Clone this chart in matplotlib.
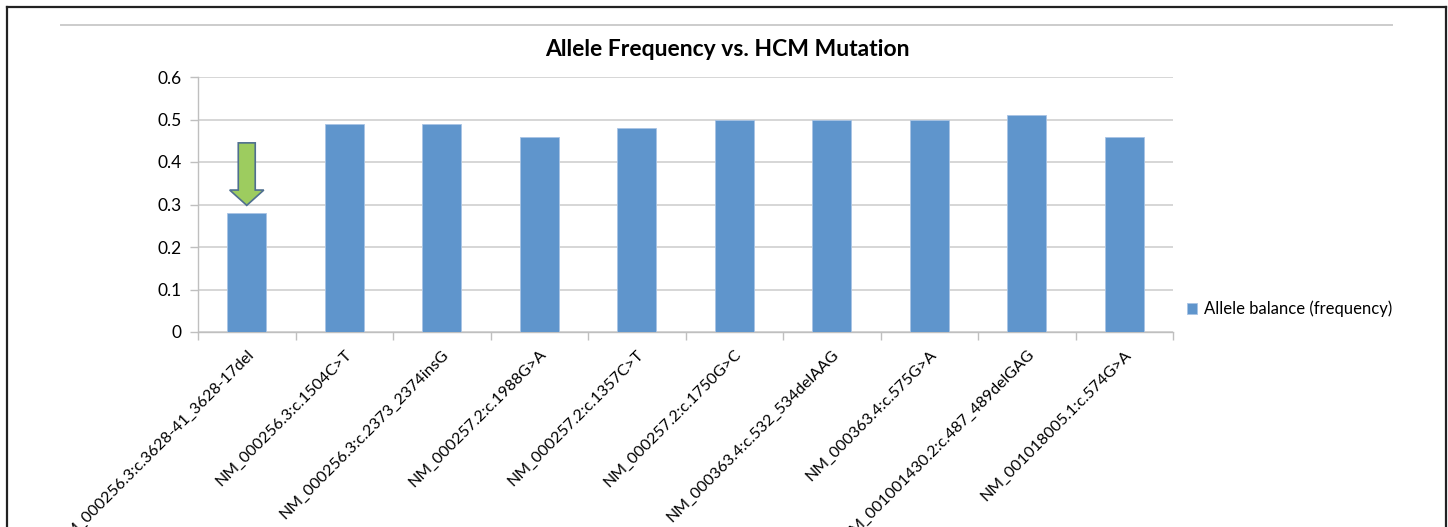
import numpy as np
import matplotlib
matplotlib.use("Agg")
import matplotlib.pyplot as plt
from matplotlib.lines import Line2D
from matplotlib.patches import Polygon

plt.rcParams['font.family'] = ['Lato', 'DejaVu Sans']

# data
mutations = ['NM_000256.3:c.3628-41_3628-17del', 'NM_000256.3:c.1504C>T',
             'NM_000256.3:c.2373_2374insG', 'NM_000257.2:c.1988G>A',
             'NM_000257.2:c.1357C>T', 'NM_000257.2:c.1750G>C',
             'NM_000363.4:c.532_534delAAG', 'NM_000363.4:c.575G>A',
             'NM_001001430.2:c.487_489delGAG', 'NM_001018005.1:c.574G>A']
allele_freq = [0.28, 0.49, 0.49, 0.46, 0.48, 0.50, 0.50, 0.50, 0.51, 0.46]
yticks = [0, 0.1, 0.2, 0.3, 0.4, 0.5, 0.6]

W, H = 1448, 527
fig = plt.figure(figsize=(W / 100, H / 100), dpi=100)
ax = fig.add_axes([198 / W, 1 - 332 / H, (1173 - 198) / W, (332 - 77) / H])

x = np.arange(len(mutations))
bars = ax.bar(x, allele_freq, width=0.4, color='#5f95cc', edgecolor='#a9c4e4',
              linewidth=0.6, zorder=3, label='Allele balance (frequency)')

ax.set_xlim(-0.5, len(mutations) - 0.5)
ax.set_ylim(0, 0.6)
ax.set_yticks(yticks)
ax.set_yticklabels([f'{t:g}' for t in yticks], fontsize=12.5)
ax.yaxis.grid(True, color='#d0d0d0', linewidth=1.2, zorder=0)

# category labels, rotated
ax.set_xticks(x)
ax.set_xticklabels(mutations, rotation=45, ha='right', rotation_mode='anchor', fontsize=11.5)
ax.tick_params(axis='x', length=0, pad=11)
for lbl in ax.get_xticklabels():
    lbl.set_x(lbl.get_position()[0])
ax.set_xticks(np.arange(len(mutations) + 1) - 0.5, minor=True)
ax.tick_params(axis='x', which='minor', length=6, color='#bfbfbf', width=1)
ax.tick_params(axis='y', length=6, color='#bfbfbf', width=1, pad=6)

for s in ['top', 'right']:
    ax.spines[s].set_visible(False)
for s in ['left', 'bottom']:
    ax.spines[s].set_color('#bfbfbf')
    ax.spines[s].set_linewidth(1)

fig.text(727 / W, 1 - 49 / H, 'Allele Frequency vs. HCM Mutation', ha='center', va='center',
         fontsize=16.5, fontweight='bold')

fig.legend(handles=[bars], loc='center left', bbox_to_anchor=(1172 / W, 1 - 309 / H),
           frameon=False, fontsize=12, handlelength=0.6, handleheight=0.6,
           handletextpad=0.4)

# green arrow pointing at the lowest bar
i = int(np.argmin(allele_freq))
tip = allele_freq[i] + 0.018
sw, hw, hl = 0.087, 0.175, 0.036
arrow = Polygon([(i - sw, 0.445), (i + sw, 0.445), (i + sw, tip + hl), (i + hw, tip + hl),
                 (i, tip), (i - hw, tip + hl), (i - sw, tip + hl)],
                closed=True, facecolor='#9dcc5f', edgecolor='#4f6f8f', linewidth=1.2, zorder=4)
ax.add_patch(arrow)

# outer frame and header rule
fig.add_artist(Line2D([7 / W, 7 / W], [0, 1 - 7 / H], color='#222222', lw=1.6))
fig.add_artist(Line2D([7 / W, 1446 / W], [1 - 7 / H, 1 - 7 / H], color='#222222', lw=1.6))
fig.add_artist(Line2D([1446 / W, 1446 / W], [0, 1 - 7 / H], color='#222222', lw=1.6))
fig.add_artist(Line2D([61 / W, 1392 / W], [1 - 25 / H, 1 - 25 / H], color='#cccccc', lw=1.4))

fig.savefig('out.png', dpi=100)
